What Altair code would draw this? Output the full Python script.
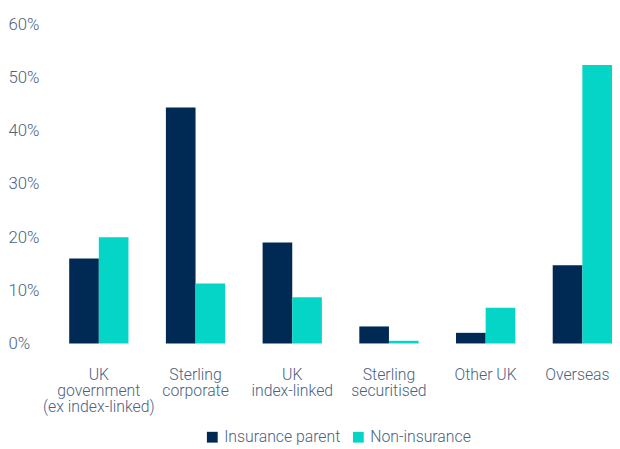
import altair as alt
import pandas as pd

categories = ["UK|government|(ex index-linked)", "Sterling|corporate", "UK|index-linked",
              "Sterling|securitised", "Other UK", "Overseas"]
series = ["Insurance parent", "Non-insurance"]
insurance_parent = [16.0, 44.4, 19.0, 3.2, 2.0, 14.7]
non_insurance = [20.0, 11.3, 8.7, 0.5, 6.7, 52.4]
colors = ["#002A54", "#05D5C6"]
y_ticks = [0, 10, 20, 30, 40, 50, 60]

rows = []
for c, a, b in zip(categories, insurance_parent, non_insurance):
    rows.append({"category": c, "series": series[0], "value": a / 100})
    rows.append({"category": c, "series": series[1], "value": b / 100})
df = pd.DataFrame(rows)

text_color = "#4A6283"
font = "Roboto"

chart = alt.Chart(df).mark_bar().encode(
    x=alt.X("category:N", sort=categories,
            scale=alt.Scale(paddingInner=0.387, paddingOuter=0),
            axis=alt.Axis(title=None, labelAngle=0, ticks=False, domain=False,
                          labelPadding=24, labelExpr="split(datum.label, '|')",
                          labelOffset=alt.condition("datum.value == 'Overseas'",
                                                    alt.value(-5), alt.value(0)),
                          labelLineHeight=16, labelFontSize=16, labelColor=text_color,
                          labelFont=font, labelFontWeight=300)),
    xOffset=alt.XOffset("series:N", sort=series),
    y=alt.Y("value:Q", scale=alt.Scale(domain=[0, 0.6], nice=False),
            axis=alt.Axis(title=None, format=".0%", values=[t / 100 for t in y_ticks],
                          grid=False, ticks=False, domain=False, labelAlign="left",
                          labelPadding=62, labelFontSize=17, labelColor=text_color,
                          labelFont=font, labelFontWeight=300)),
    color=alt.Color("series:N", sort=series,
                    scale=alt.Scale(domain=series, range=colors),
                    legend=alt.Legend(title=None, orient="none", direction="horizontal",
                                      legendX=137, legendY=410, symbolType="square",
                                      symbolSize=120, symbolStrokeWidth=0,
                                      labelFontSize=16, labelColor=text_color,
                                      labelFont=font, labelFontWeight=300,
                                      columnPadding=10, symbolOpacity=1)),
).properties(
    width=550, height=323,
    autosize=alt.AutoSizeParams(type="none"),
    padding={"left": 62, "right": 0, "top": 14, "bottom": 101},
).configure_view(stroke=None)

chart.save("out.html", embed_options={"renderer": "svg", "actions": False})
